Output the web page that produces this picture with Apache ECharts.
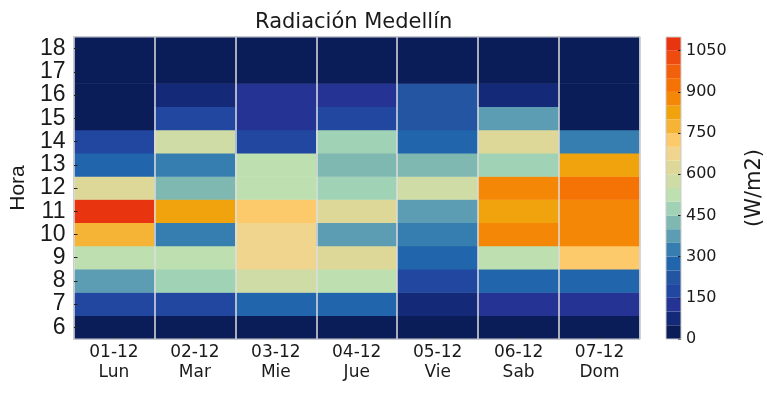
<!DOCTYPE html>
<html>
<head>
<meta charset="utf-8">
<script src="https://cdn.jsdelivr.net/npm/echarts@6/dist/echarts.min.js"></script>
<style>
html,body{margin:0;padding:0;background:#fff;}
#chart{width:767px;height:395px;}
</style>
</head>
<body>
<div id="chart"></div>
<script>
// ---- data ----
const days = ['01-12\nLun','02-12\nMar','03-12\nMie','04-12\nJue','05-12\nVie','06-12\nSab','07-12\nDom'];
const hours = ['6','7','8','9','10','11','12','13','14','15','16','17','18'];
// values per day, hours 6..18 (W/m2)
const lun = [25,175,375,525,775,1075,625,275,175,25,25,25,25];
const mar = [25,175,475,525,325,825,425,325,575,175,75,25,25];
const mie = [25,275,575,675,675,725,525,525,175,125,125,25,25];
const jue = [25,275,525,625,375,625,475,425,475,175,125,25,25];
const vie = [25,75,175,275,325,375,575,425,275,225,225,25,25];
const sab = [25,125,275,525,875,825,875,475,625,375,75,25,25];
const dom = [25,125,275,725,875,875,925,825,325,25,25,25,25];
const colorbarTicks = [0,150,300,450,600,750,900,1050];
const levelStep = 50;
const levelMax = 1100;
const palette = ['#0a1d58','#142a78','#253494','#2247a0','#2455a3','#2166ac','#377eb0','#5d9db3',
  '#7fb7b1','#a0d2b5','#bedfb0','#cfdca6','#ddd898','#efd58e','#fcc96b','#f5b436',
  '#f0a30c','#f48806','#f57205','#f2600b','#ee4c0f','#e8340f'];

const allDays = [lun,mar,mie,jue,vie,sab,dom];
const heatData = [];
allDays.forEach((arr,di)=>arr.forEach((v,hi)=>heatData.push([di,hi,v])));

const pieces = palette.map((c,i)=>({gte:i*levelStep, lt:(i+1)*levelStep, color:c}));
const cbSeries = palette.map((c,i)=>({
  type:'bar', xAxisIndex:1, yAxisIndex:1, stack:'cb', barWidth:'100%', silent:true,
  data:[levelStep], itemStyle:{color:c}
}));

const txt = '#1a1a1a';
const chart = echarts.init(document.getElementById('chart'));
chart.setOption({
  animation:false,
  title:{text:'Radiación Medellín', left:250, top:7,
    textStyle:{fontFamily:'DejaVu Sans', fontSize:21, fontWeight:'normal', color:txt}},
  grid:[
    {left:73, top:37, width:567, height:302, show:true, borderColor:'#cccccc', borderWidth:1, z:10, backgroundColor:'transparent'},
    {left:666, top:37, width:15, height:302, show:true, borderColor:'#cccccc', borderWidth:1, z:10, backgroundColor:'transparent'}
  ],
  xAxis:[
    {type:'category', gridIndex:0, data:days, z:3,
      axisLine:{show:false},
      axisTick:{show:true, inside:true, length:4, alignWithLabel:true, lineStyle:{color:'#222'}},
      splitLine:{show:true, lineStyle:{color:'#dedede', width:1.5}},
      axisLabel:{fontFamily:'DejaVu Sans', fontSize:17, lineHeight:20, color:txt, margin:4}},
    {type:'category', gridIndex:1, data:['cb'], show:false}
  ],
  yAxis:[
    {type:'category', gridIndex:0, data:hours, z:3,
      name:'Hora', nameLocation:'middle', nameGap:44, nameRotate:90,
      nameTextStyle:{fontFamily:'Liberation Sans', fontSize:21, color:txt},
      axisLine:{show:false},
      axisTick:{show:true, inside:true, length:4, alignWithLabel:true, lineStyle:{color:'#222'}},
      splitLine:{show:false},
      axisLabel:{interval:0, fontFamily:'Liberation Sans', fontSize:23, color:txt, margin:8}},
    {type:'value', gridIndex:1, position:'right', min:0, max:levelMax, interval:150, z:3,
      name:'(W/m2)', nameLocation:'middle', nameGap:63, nameRotate:90,
      nameTextStyle:{fontFamily:'DejaVu Sans', fontSize:21, color:txt},
      axisLine:{show:false},
      axisTick:{show:true, inside:true, length:3, lineStyle:{color:'#222'}},
      splitLine:{show:false},
      axisLabel:{fontFamily:'DejaVu Sans', fontSize:16, color:txt, margin:5, showMaxLabel:false,
        formatter:(v)=>colorbarTicks.includes(v)?String(v):''}}
  ],
  visualMap:{type:'piecewise', show:false, seriesIndex:0, dimension:2, pieces:pieces},
  series:[
    {type:'heatmap', xAxisIndex:0, yAxisIndex:0, data:heatData, silent:true}
  ].concat(cbSeries)
});
</script>
</body>
</html>
